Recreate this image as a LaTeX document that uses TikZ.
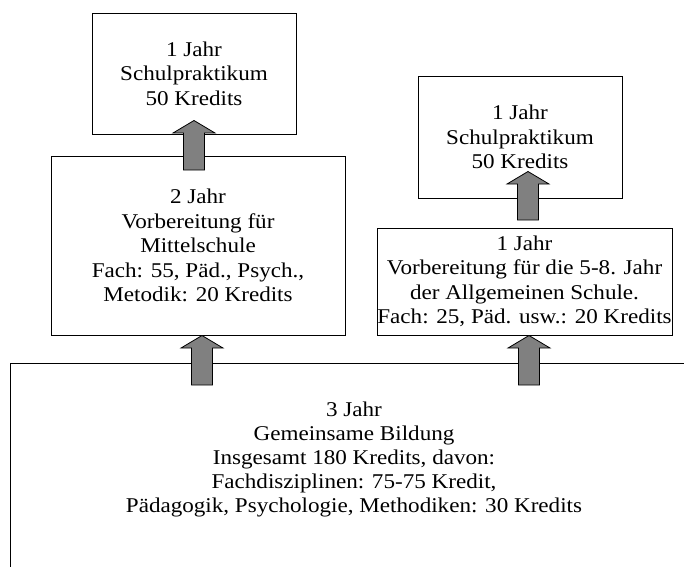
\documentclass[tikz,border=0pt]{standalone}
\usepackage{fontspec}
\setmainfont{Liberation Serif}[FakeStretch=1.1]
\usetikzlibrary{calc}
\definecolor{arrowgrey}{RGB}{128,128,128}

% block arrow from tail (#1) up to tip (#2)
\newcommand{\blockarrow}[2]{%
  \draw[blockarr] let \p1=(#1), \p2=(#2) in
    (\x1-10.5pt,\y1) -- (\x1-10.5pt,\y2-12.5pt) -- (\x1-21pt,\y2-12.5pt) -- (\x1,\y2)
    -- (\x1+21pt,\y2-12.5pt) -- (\x1+10.5pt,\y2-12.5pt) -- (\x1+10.5pt,\y1) -- cycle;}

\begin{document}
\begin{tikzpicture}[x=1pt,y=-1pt,
    box/.style={draw,line width=1pt,fill=white,align=center,inner sep=0pt,
      font=\fontsize{21}{24.5}\selectfont},
    boxtext/.style={align=center,inner sep=0pt,font=\fontsize{21}{23.8}\selectfont},
    blockarr/.style={draw,line width=0.8pt,fill=arrowgrey}]
    \useasboundingbox (0,0) rectangle (684,566);
    \clip (0,0) rectangle (684,566);

    % Schulpraktikum, left
    \node[box,minimum width=204pt,minimum height=121pt] (prakt1) at (194,73.5)
      {1 Jahr\\Schulpraktikum\\50 Kredits};

    % Vorbereitung Mittelschule
    \node[box,minimum width=294pt,minimum height=179pt] (mittel) at (198,245.5)
      {2 Jahr\\Vorbereitung für\\Mittelschule\\Fach: 55, Päd., Psych.,\\Metodik: 20 Kredits};

    % Schulpraktikum, right
    \node[box,minimum width=204pt,minimum height=122pt] (prakt2) at (520,137)
      {1 Jahr\\Schulpraktikum\\50 Kredits};

    % Vorbereitung 5-8
    \node[box,minimum width=295pt,minimum height=107pt] (allg) at (524.5,281.5)
      {1 Jahr\\Vorbereitung für die 5-8. Jahr\\der Allgemeinen Schule.\\Fach: 25, Päd. usw.: 20 Kredits};

    % Gemeinsame Bildung
    \node[box,minimum width=700pt,minimum height=240pt,anchor=north west] (common) at (10,363) {};
    \node[boxtext] (commontext) at (354,459.5)
      {3 Jahr\\Gemeinsame Bildung\\Insgesamt 180 Kredits, davon:\\Fachdisziplinen: 75-75 Kredit,\\Pädagogik, Psychologie, Methodiken: 30 Kredits};

    % Arrows
    \coordinate (t1) at (202,385);
    \coordinate (t2) at (528,220);
    \coordinate (t3) at (194,170);
    \coordinate (t4) at (529,385);
    \blockarrow{t1}{t1 |- mittel.south}
    \blockarrow{t4}{t4 |- allg.south}
    \blockarrow{t3}{$(t3 |- prakt1.south)+(0,-14)$}
    \blockarrow{t2}{$(t2 |- prakt2.south)+(0,-27)$}
\end{tikzpicture}
\end{document}
